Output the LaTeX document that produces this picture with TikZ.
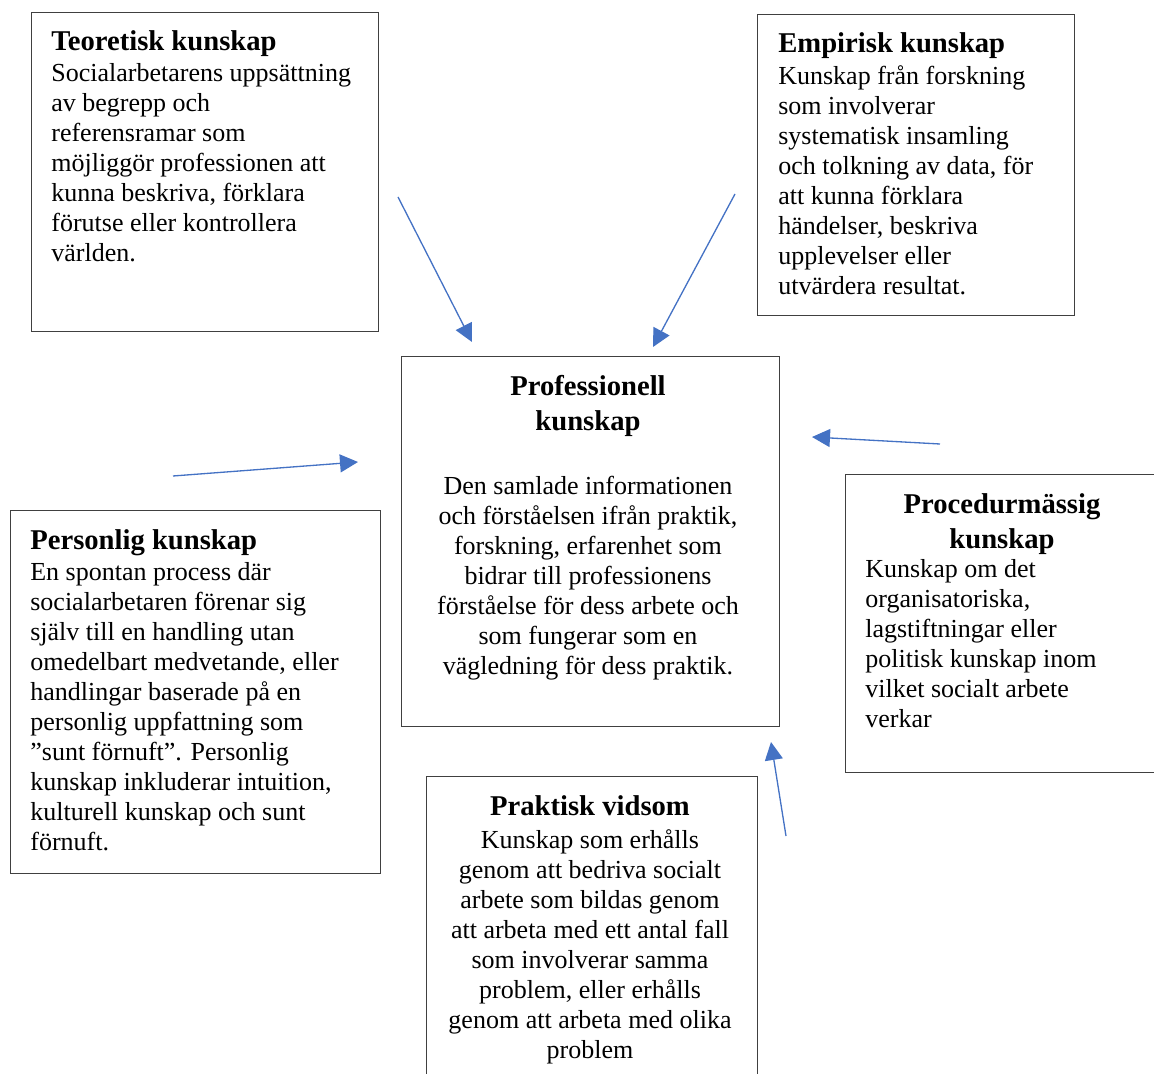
\documentclass[tikz,border=0pt]{standalone}
\usepackage{fontspec}
\setmainfont{Liberation Serif}
\usepackage{xcolor}
\usepackage{tikz}
\usetikzlibrary{arrows.meta, positioning}
\definecolor{pilblue}{HTML}{4472C4}

\begin{document}
\begin{tikzpicture}[x=0.02cm, y=-0.02cm,
    ram/.style={draw=black!75, line width=0.6pt, inner sep=0pt, anchor=north west},
    rubrik/.style={inner sep=0pt, font=\fontsize{16.3}{19.9}\selectfont\bfseries},
    brodtext/.style={inner sep=0pt, font=\fontsize{14.8}{17.07}\selectfont},
    pil/.style={pilblue, line width=0.75pt, -{Triangle[length=0.36cm, width=0.36cm]}}]
  % page 1154 x 1074 px, 1 px = 0.02 cm, y runs downwards
  \clip (0,0) rectangle (1154,1074);
  % frames
  \node[ram, minimum width=6.94cm, minimum height=6.38cm] (teo)  at (31,12)  {};
  \node[ram, minimum width=6.34cm, minimum height=6.02cm] (emp)  at (757,14) {};
  \node[ram, minimum width=7.56cm, minimum height=7.40cm] (prof) at (401,356) {};
  \node[ram, minimum width=7.40cm, minimum height=7.26cm] (pers) at (10,510) {};
  \node[ram, minimum width=6.40cm, minimum height=5.96cm] (proc) at (845,474) {};
  \node[ram, minimum width=6.62cm, minimum height=6.40cm] (prak) at (426,776) {};
  % Teoretisk kunskap
  \node[rubrik, anchor=north west] (teo-r) at (51,30) {Teoretisk kunskap};
  \node[brodtext, anchor=north west, align=left] (teo-t) at (51,63.5)
    {Socialarbetarens uppsättning\\av begrepp och\\referensramar som\\möjliggör professionen att\\kunna beskriva, förklara\\förutse eller kontrollera\\världen.};
  % Empirisk kunskap
  \node[rubrik, anchor=north west] (emp-r) at (778,32) {Empirisk kunskap};
  \node[brodtext, anchor=north west, align=left] (emp-t) at (778,65.5)
    {Kunskap från forskning\\som involverar\\systematisk insamling\\och tolkning av data, för\\att kunna förklara\\händelser, beskriva\\upplevelser eller\\utvärdera resultat.};
  % Professionell kunskap
  \node[rubrik, anchor=north, align=center] (prof-r) at (588,375) {Professionell\\kunskap};
  \node[brodtext, anchor=north, align=center] (prof-t) at (588,476)
    {Den samlade informationen\\och förståelsen ifrån praktik,\\forskning, erfarenhet som\\bidrar till professionens\\förståelse för dess arbete och\\som fungerar som en\\vägledning för dess praktik.};
  % Personlig kunskap
  \node[rubrik, anchor=north west] (pers-r) at (30,529) {Personlig kunskap};
  \node[brodtext, anchor=north west, align=left] (pers-t) at (30,562.5)
    {En spontan process där\\socialarbetaren förenar sig\\själv till en handling utan\\omedelbart medvetande, eller\\handlingar baserade på en\\personlig uppfattning som\\”sunt förnuft”. Personlig\\kunskap inkluderar intuition,\\kulturell kunskap och sunt\\förnuft.};
  % Procedurmässig kunskap
  \node[rubrik, anchor=north, align=center] (proc-r) at (1002,493) {Procedurmässig\\kunskap};
  \node[brodtext, anchor=north west, align=left] (proc-t) at (865,559)
    {Kunskap om det\\organisatoriska,\\lagstiftningar eller\\politisk kunskap inom\\vilket socialt arbete\\verkar};
  % Praktisk vidsom
  \node[rubrik, anchor=north] (prak-r) at (590,795) {Praktisk vidsom};
  \node[brodtext, anchor=north, align=center] (prak-t) at (590,829)
    {Kunskap som erhålls\\genom att bedriva socialt\\arbete som bildas genom\\att arbeta med ett antal fall\\som involverar samma\\problem, eller erhålls\\genom att arbeta med olika\\problem};
  % arrow ends
  \coordinate (teo-s)  at (398,197);  \coordinate (teo-e)  at (472,342);
  \coordinate (emp-s)  at (735,194);  \coordinate (emp-e)  at (653,347);
  \coordinate (pers-s) at (173,476);  \coordinate (pers-e) at (358,462);
  \coordinate (proc-s) at (940,444);  \coordinate (proc-e) at (812,437);
  \coordinate (prak-s) at (786,836);  \coordinate (prak-e) at (771,742);
  \foreach \n in {teo, emp, pers, proc, prak}
    \draw[pil] (\n-s) -- (\n-e);
\end{tikzpicture}
\end{document}
